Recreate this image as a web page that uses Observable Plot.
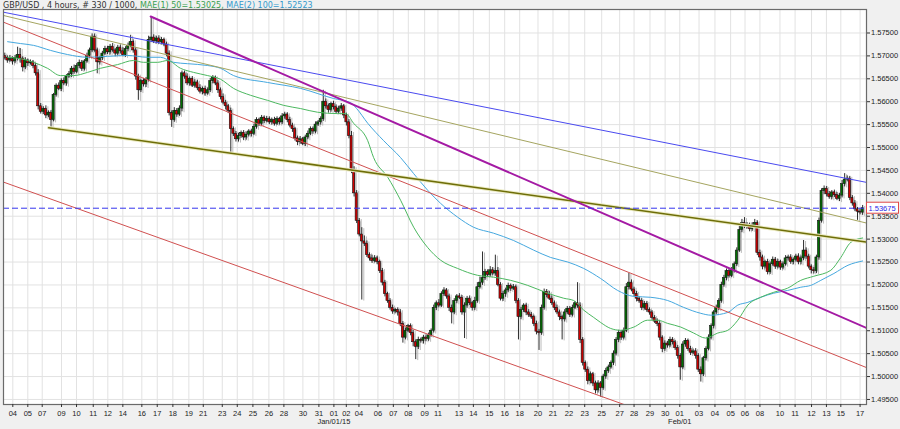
<!DOCTYPE html>
<html><head><meta charset="utf-8">
<script src="https://cdn.jsdelivr.net/npm/d3@7"></script>
<script src="https://cdn.jsdelivr.net/npm/@observablehq/plot@0.6"></script>
<style>
html,body{margin:0;padding:0;background:#f0f0f0;}
#chart{width:900px;height:429px;}
</style></head><body><div id="chart"></div>
<script>
// ---- data (prices in pips after "1.", e.g. 5700 = 1.5700) ----
const firstOpen = 5700;
const closes = [
5696,5690,5693,5688,5695,5702,5694,5675,5690,5684,
5686,5678,5662,5590,5578,5584,5570,5576,5560,5615,
5635,5628,5645,5640,5655,5660,5672,5665,5678,5685,
5672,5688,5700,5712,5742,5712,5686,5695,5705,5715,
5708,5720,5712,5705,5718,5710,5702,5715,5722,5730,
5712,5655,5625,5645,5638,5648,5735,5740,5732,5738,
5730,5735,5725,5705,5575,5560,5580,5572,5585,5662,
5655,5640,5650,5635,5642,5630,5622,5628,5618,5625,
5645,5652,5640,5625,5610,5598,5590,5580,5540,5530,
5518,5525,5532,5522,5528,5535,5530,5545,5560,5552,
5565,5558,5562,5555,5560,5552,5562,5555,5568,5572,
5560,5548,5540,5520,5512,5518,5508,5522,5530,5540,
5535,5550,5555,5562,5600,5590,5582,5595,5588,5578,
5585,5590,5570,5555,5525,5450,5400,5340,5310,5295,
5290,5265,5258,5252,5258,5250,5230,5205,5180,5165,
5150,5142,5145,5140,5115,5085,5100,5110,5095,5075,
5065,5080,5078,5085,5082,5090,5100,5150,5160,5155,
5180,5188,5175,5150,5140,5165,5175,5172,5140,5155,
5170,5160,5150,5165,5195,5205,5215,5228,5222,5232,
5225,5230,5200,5170,5180,5188,5198,5192,5195,5165,
5130,5145,5155,5140,5135,5130,5115,5098,5095,5150,
5185,5178,5170,5160,5150,5140,5130,5125,5140,5148,
5135,5150,5160,5155,5080,5030,5015,4990,5005,4985,
4970,4985,4975,5000,5012,5020,5030,5050,5080,5095,
5085,5100,5195,5205,5190,5180,5170,5165,5150,5158,
5145,5140,5128,5120,5115,5085,5060,5072,5068,5080,
5075,5062,5045,5020,5070,5078,5060,5052,5055,5045,
5015,5005,5040,5060,5085,5110,5140,5150,5165,5200,
5215,5230,5220,5232,5245,5275,5320,5335,5328,5330,
5322,5330,5335,5270,5260,5240,5250,5228,5245,5255,
5240,5250,5238,5245,5258,5260,5250,5255,5262,5250,
5258,5275,5262,5240,5232,5230,5260,5340,5405,5410,
5398,5392,5402,5396,5388,5395,5420,5430,5432,5390,
5378,5365,5360,5358,5367.5];
const wickUp = [
6,4,8,5,6,17,14,4,6,3, 5,4,6,8,6,5,7,4,5,3, 4,6,5,7,4,6,5,8,5,6, 5,4,6,5,6,6,5,4,5,6,
6,5,7,4,5,6,8,5,6,15, 5,6,5,4,6,5,8,46,6,5, 6,5,4,5,6,5,7,5,6,5, 5,6,4,5,6,5,7,4,6,5,
6,5,4,6,5,7,5,4,6,5, 5,6,4,5,6,4,5,6,5,4, 5,4,6,5,4,6,5,4,6,5, 4,6,5,4,5,6,4,5,6,5,
5,6,4,5,25,6,5,4,6,5, 5,6,4,5,6,10,8,6,5,15, 12,6,5,7,6,5,4,6,5,4, 5,6,4,5,6,5,6,4,5,6,
5,6,4,5,6,5,4,6,5,8, 5,6,4,5,6,5,4,6,5,6, 5,6,4,8,10,12,57,6,5,8, 6,35,8,5,6,5,6,4,6,5,
5,6,4,5,6,5,4,6,5,6, 6,5,8,6,5,6,5,4,6,5, 5,6,4,45,6,5,4,6,5,4, 5,6,4,5,6,5,4,6,5,6,
5,6,8,20,6,5,6,4,5,6, 6,5,4,5,6,5,4,6,5,6, 5,4,6,5,6,5,4,6,5,6, 5,6,4,5,6,5,4,6,5,6,
6,5,4,6,5,6,10,8,12,6, 5,6,8,5,6,5,4,6,5,6, 5,6,4,5,6,5,6,4,5,6, 5,22,6,5,4,6,5,6,5,6,
5,6,4,5,6,5,8,13,6,5, 5,6,4,5,6];
const wickDn = [
5,6,4,8,5,6,10,10,5,7, 4,6,6,8,5,6,7,5,18,4, 5,4,6,5,6,4,7,5,4,6, 6,5,4,6,5,4,25,6,5,4,
5,6,4,7,5,6,4,5,6,4, 6,8,22,5,6,7,5,6,5,6, 5,6,5,7,6,16,5,6,4,7, 6,5,6,4,5,6,5,7,6,4,
5,6,5,7,6,5,8,6,52,6, 6,6,5,7,6,5,7,4,5,6, 5,6,4,5,6,5,4,6,5,6, 6,5,7,6,8,5,4,6,5,4,
6,5,4,6,5,6,7,5,6,5, 5,6,7,8,6,7,8,6,5,128, 6,5,6,5,4,6,5,7,6,5, 5,6,5,8,6,12,5,4,6,10,
28,6,5,7,6,5,4,5,6,5, 4,5,6,8,25,5,6,4,6,57, 6,5,7,6,5,4,6,5,6,5, 5,6,4,5,6,7,5,6,4,6,
50,6,5,7,6,5,6,7,38,5, 5,6,4,5,6,5,8,45,6,5, 6,5,4,6,8,7,6,8,6,7, 8,6,20,5,6,5,4,6,5,6,
6,5,4,6,5,6,7,5,6,5, 5,6,5,4,6,7,8,5,6,5, 6,5,7,28,5,6,5,6,4,7, 6,17,5,6,4,5,6,5,6,5,
5,6,5,4,6,5,4,6,5,6, 6,5,4,6,8,7,5,6,5,4, 6,5,6,5,4,6,5,6,5,6, 6,5,6,5,8,6,5,6,5,8,
6,5,6,5,4,6,5,6,5,6, 6,5,19,5,6];

// moving averages: [bar position, pips]
const ma50 = [[1.6,5697],[6.6,5694],[11.7,5686],[17.1,5673],[22.2,5657],[27.3,5657],[32.7,5664],[37.8,5673],[44.4,5681],[50.6,5690],[54.5,5686],[60,5686],[63.9,5690],[68.9,5673],[74,5664],[79.5,5657],[84.5,5649],[89.6,5629],[96.2,5614],[102.8,5603],[109.1,5592],[115.7,5585],[122.3,5577],[130.1,5574],[133.2,5574],[136.3,5553],[141.8,5515],[144.1,5478],[149.6,5435],[154.6,5385],[159.7,5326],[165.1,5282],[170.2,5254],[176.8,5236],[184.6,5221],[190.8,5217],[197.5,5210],[204.1,5199],[211.9,5182],[218.1,5171],[222,5166],[225.9,5145],[229.8,5129],[232.5,5118],[236.4,5105],[240.3,5101],[245.4,5108],[250.8,5123],[254.7,5123],[258.6,5116],[263.7,5108],[268.7,5095],[273.4,5084],[278.1,5095],[282,5101],[285.9,5123],[289.8,5156],[294.8,5173],[299.9,5184],[305.3,5193],[310.4,5210],[315.5,5219],[322.1,5232],[326,5260],[329.9,5293],[334.5,5302.5]];
const ma100 = [[1.6,5731],[6.6,5727],[11.7,5723],[18.3,5712],[24.9,5703],[32.7,5697],[40.5,5699],[48.3,5701],[56.1,5697],[61.1,5697],[66.2,5686],[71.7,5683],[79.5,5679],[84.5,5673],[89.6,5657],[102.8,5642],[115.7,5629],[128.5,5607],[135.1,5598],[137.5,5585],[141.8,5553],[148,5515],[154.6,5478],[159.7,5443],[165.1,5407],[170.2,5378],[176.8,5348],[183,5326],[190.8,5313],[198.6,5297],[206.4,5276],[213,5260],[219.7,5250],[225.9,5236],[232.5,5214],[239.1,5188],[245.4,5175],[252,5173],[258.6,5166],[264.8,5151],[271.5,5138],[275.4,5134],[282,5140],[285.9,5156],[289.8,5162],[294.8,5173],[299.9,5182],[305.3,5188],[310.4,5195],[314.3,5199],[318.2,5210],[323.3,5225],[328.8,5243],[334.5,5252.3]];

// trend lines: [bar position, price]
const blueLine = [[0,1.57954],[336,1.54239]];
const oliveThin = [[0,1.57882],[336,1.53351]];
const redUpper = [[0,1.57736],[336,1.50196]];
const redLower = [[0,1.54245],[260,1.4902]];
const magentaLine = [[57.3,1.5786],[336,1.5106]];
const oliveThick = [[17.6,1.55432],[336,1.52936]];
const lastPrice = 1.53675;

const yTicks = [1.495,1.5,1.505,1.51,1.515,1.52,1.525,1.53,1.535,1.54,1.545,1.55,1.555,1.56,1.565,1.57,1.575];
const tickIdx = [3.62,9.46,15.07,22.59,28.43,34.94,40.62,46.46,53.86,59.86,65.94,72.17,77.78,85.18,91.02,97.1,103.33,109.17,116.57,122.8,128.64,133.47,138.38,145.78,151.78,157.62,163.97,169.15,177.33,182.94,189.17,195.13,200.97,208.1,213.94,220.17,226.29,232.9,239.9,245.5,251.7,257.6,263.3,270.8,277.0,283.1,288.7,294.5,302.3,308.2,314.6,320.4,326.0,333.5];
const tickLabels = ["04","05","07","09","10","11","12","14","16","17","18","19","21","23","24","25","26","28","30","31","01","02","04","06","07","08","09","11","13","14","15","16","18","20","21","22","23","25","27","28","29","30","01","03","04","05","06","08","10","11","12","13","15","17"];
const monthLabels = [{x:128.64, t:"Jan/01/15"},{x:263.3, t:"Feb/01"}];
const titleParts = [["GBP/USD , 4 hours, # 330 / 1000, ","#333"],["MAE(1) 50=1.53025, ","#3aa050"],["MAE(2) 100=1.52523","#3399cc"]];

// ---- build ----
const P = v => 1 + v/10000;
const bars = closes.map((c,i)=>{
  const o = i===0 ? firstOpen : closes[i-1];
  const hi = Math.max(o,c) + (wickUp[i] ?? 0), lo = Math.min(o,c) - (wickDn[i] ?? 0);
  return {i, o:P(o), c:P(c), h:P(hi), l:P(lo), up: c>=o};
});
const labelMap = new Map(tickIdx.map((d,i)=>[d, tickLabels[i]]));
const maLine = a => a.map(([x,v])=>({x, y:P(v)}));
const tl = (a, opts) => Plot.line(a, {x: d=>d[0], y: d=>d[1], clip: true, ...opts});
const FONT = "'Liberation Sans', Arial, sans-serif";

const plot = Plot.plot({
  width: 900, height: 429,
  marginLeft: 3, marginRight: 34, marginTop: 9, marginBottom: 25,
  style: {background: "#f0f0f0", fontFamily: FONT, fontSize: "7.5px", color: "#222"},
  x: {domain: [0, 336], axis: null},
  y: {domain: [1.4939, 1.58013], axis: null},
  marks: [
    Plot.frame({fill: "#fff"}),
    Plot.gridY(yTicks, {stroke: "#e2e2e2", strokeOpacity: 1}),
    Plot.gridX(tickIdx, {stroke: "#e2e2e2", strokeOpacity: 1}),
    // candle shadows
    Plot.ruleX(bars, {x: d=>d.i+0.5, y1: "l", y2: "h", stroke: "#bcbcbc", strokeWidth: 1, dx: 2, dy: 1}),
    Plot.rect(bars, {x1: d=>d.i+0.12, x2: d=>d.i+0.88, y1: "o", y2: "c", fill: "#c4c4c4", dx: 1.5, dy: 1}),
    // wicks + bodies
    Plot.ruleX(bars, {x: d=>d.i+0.5, y1: "l", y2: "h", stroke: "#151515", strokeWidth: 0.9}),
    Plot.rect(bars, {x1: d=>d.i+0.1, x2: d=>d.i+0.9, y1: "o", y2: "c", fill: d=>d.up ? "#007000" : "#d40000", stroke: "#111", strokeWidth: 0.6}),
    // moving averages
    Plot.line(maLine(ma100), {x: "x", y: "y", stroke: "#45a8df", strokeWidth: 1, curve: "monotone-x"}),
    Plot.line(maLine(ma50), {x: "x", y: "y", stroke: "#4cb860", strokeWidth: 1, curve: "monotone-x"}),
    // trend lines
    tl(redLower, {stroke: "#d05050", strokeWidth: 1}),
    tl(redUpper, {stroke: "#d05050", strokeWidth: 1}),
    tl(oliveThin, {stroke: "#a5a560", strokeWidth: 1}),
    tl(blueLine, {stroke: "#4a4af0", strokeWidth: 1}),
    tl(oliveThick, {stroke: "#ecebc4", strokeWidth: 3.5}),
    tl(oliveThick, {stroke: "#6e6e08", strokeWidth: 1.6}),
    tl(magentaLine, {stroke: "#a41aa4", strokeWidth: 2}),
    Plot.ruleY([lastPrice], {stroke: "#3535ee", strokeWidth: 1, strokeDasharray: "6,3"}),
    Plot.frame({stroke: "#6a6a6a", strokeWidth: 1.2}),
    Plot.axisY(yTicks, {anchor: "right", tickSize: 3, tickPadding: 1.5, tickFormat: d=>d.toFixed(5), label: null, fontSize: 7.5, stroke: "#333"}),
    Plot.axisX(tickIdx, {anchor: "bottom", tickSize: 3, tickPadding: 3, tickFormat: d=>labelMap.get(d), label: null, fontSize: 7.5, stroke: "#333"}),
    Plot.text(monthLabels, {x: "x", text: "t", frameAnchor: "bottom", dy: 19, fontSize: 7.5, fill: "#222"})
  ]
});
document.getElementById("chart").appendChild(plot);

// title and current price box
const svg = d3.select(plot);
const t = svg.append("text").attr("x", 3).attr("y", 7.5).attr("text-anchor", "start")
  .attr("font-size", 8).attr("font-family", "'DejaVu Sans', Verdana, sans-serif");
titleParts.forEach(([s,c]) => t.append("tspan").attr("fill", c).text(s));
const yPix = plot.scale("y").apply(lastPrice);
svg.append("rect").attr("x", 866.5).attr("y", yPix-5.5).attr("width", 32).attr("height", 11)
  .attr("fill", "#fff").attr("stroke", "#e04a4a").attr("stroke-width", 1);
svg.append("text").attr("x", 868.5).attr("y", yPix+2.8).attr("text-anchor", "start")
  .attr("font-size", 7.5).attr("fill", "#2a2ae8").attr("font-family", FONT).text(lastPrice.toFixed(5));
</script></body></html>
